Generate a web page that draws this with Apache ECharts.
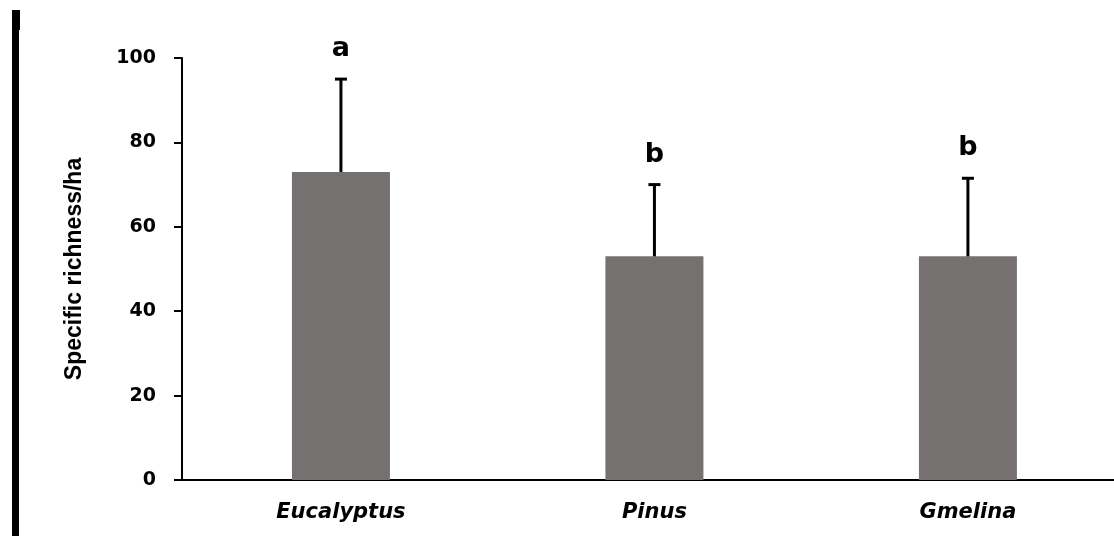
<!DOCTYPE html>
<html>
<head>
<meta charset="utf-8">
<script src="https://cdn.jsdelivr.net/npm/echarts@6/dist/echarts.min.js"></script>
<style>html,body{margin:0;padding:0;background:#fff;}#c{width:1114px;height:536px;}</style>
</head>
<body>
<div id="c"></div>
<script>
const categories = ['Eucalyptus', 'Pinus', 'Gmelina'];
const means = [73, 53, 53];
const upperErrors = [95, 70, 71.5];
const letters = ['a', 'b', 'b'];
const yTicks = [0, 20, 40, 60, 80, 100];

const chart = echarts.init(document.getElementById('c'), null, {renderer: 'canvas'});
// category positions on a value axis so the last band may run past the right edge
const xMin = -0.507, xMax = 2.466;
const option = {
  animation: false,
  backgroundColor: '#fff',
  grid: {left: 182, top: 58, right: 0, bottom: 56, containLabel: false},
  xAxis: {
    type: 'value',
    min: xMin, max: xMax,
    axisLine: {show: true, onZero: false, lineStyle: {color: '#000', width: 2}},
    axisTick: {show: false},
    axisLabel: {show: false},
    splitLine: {show: false}
  },
  yAxis: {
    type: 'value',
    min: yTicks[0], max: yTicks[yTicks.length - 1], interval: 20,
    name: 'Specific richness/ha',
    nameLocation: 'middle',
    nameGap: 96,
    nameTextStyle: {color: '#000', fontFamily: 'Liberation Sans Narrow, Liberation Sans', fontSize: 23, fontWeight: 'bold'},
    splitLine: {show: false},
    axisLine: {show: true, onZero: false, lineStyle: {color: '#000', width: 2}},
    axisTick: {show: true, length: 8, lineStyle: {color: '#000', width: 2}},
    axisLabel: {color: '#000', fontFamily: 'DejaVu Sans', fontWeight: 'bold', fontSize: 19, margin: 26}
  },
  graphic: [
    {type: 'rect', shape: {x: 12, y: 10, width: 8, height: 20}, style: {fill: '#000'}},
    {type: 'rect', shape: {x: 12, y: 10, width: 7, height: 526}, style: {fill: '#000'}}
  ],
  series: [
    {
      type: 'bar',
      data: means.map((v, i) => [i, v]),
      barWidth: 98,
      itemStyle: {color: '#767171'},
      z: 2
    },
    {
      type: 'custom',
      z: 3,
      data: categories.map((c, i) => [i, means[i], upperErrors[i]]),
      renderItem: function (params, api) {
        const i = api.value(0);
        const top = api.coord([i, api.value(1)]);
        const hi = api.coord([i, api.value(2)]);
        const base = api.coord([i, 0]);
        const cap = 6;
        return {
          type: 'group',
          children: [
            {type: 'line', shape: {x1: top[0], y1: top[1], x2: hi[0], y2: hi[1]}, style: {stroke: '#000', lineWidth: 3}},
            {type: 'line', shape: {x1: hi[0] - cap, y1: hi[1], x2: hi[0] + cap, y2: hi[1]}, style: {stroke: '#000', lineWidth: 3}},
            {type: 'text', x: hi[0], y: hi[1] - 30, style: {
              text: letters[params.dataIndex], fill: '#000', fontFamily: 'DejaVu Sans', fontWeight: 'bold',
              fontSize: 27, align: 'center', verticalAlign: 'middle'
            }},
            {type: 'text', x: base[0], y: base[1] + 33, style: {
              text: categories[params.dataIndex], fill: '#000', fontFamily: 'DejaVu Sans', fontWeight: 'bold',
              fontStyle: 'italic', fontSize: 21, align: 'center', verticalAlign: 'middle'
            }}
          ]
        };
      }
    }
  ]
};
chart.setOption(option);
</script>
</body>
</html>
